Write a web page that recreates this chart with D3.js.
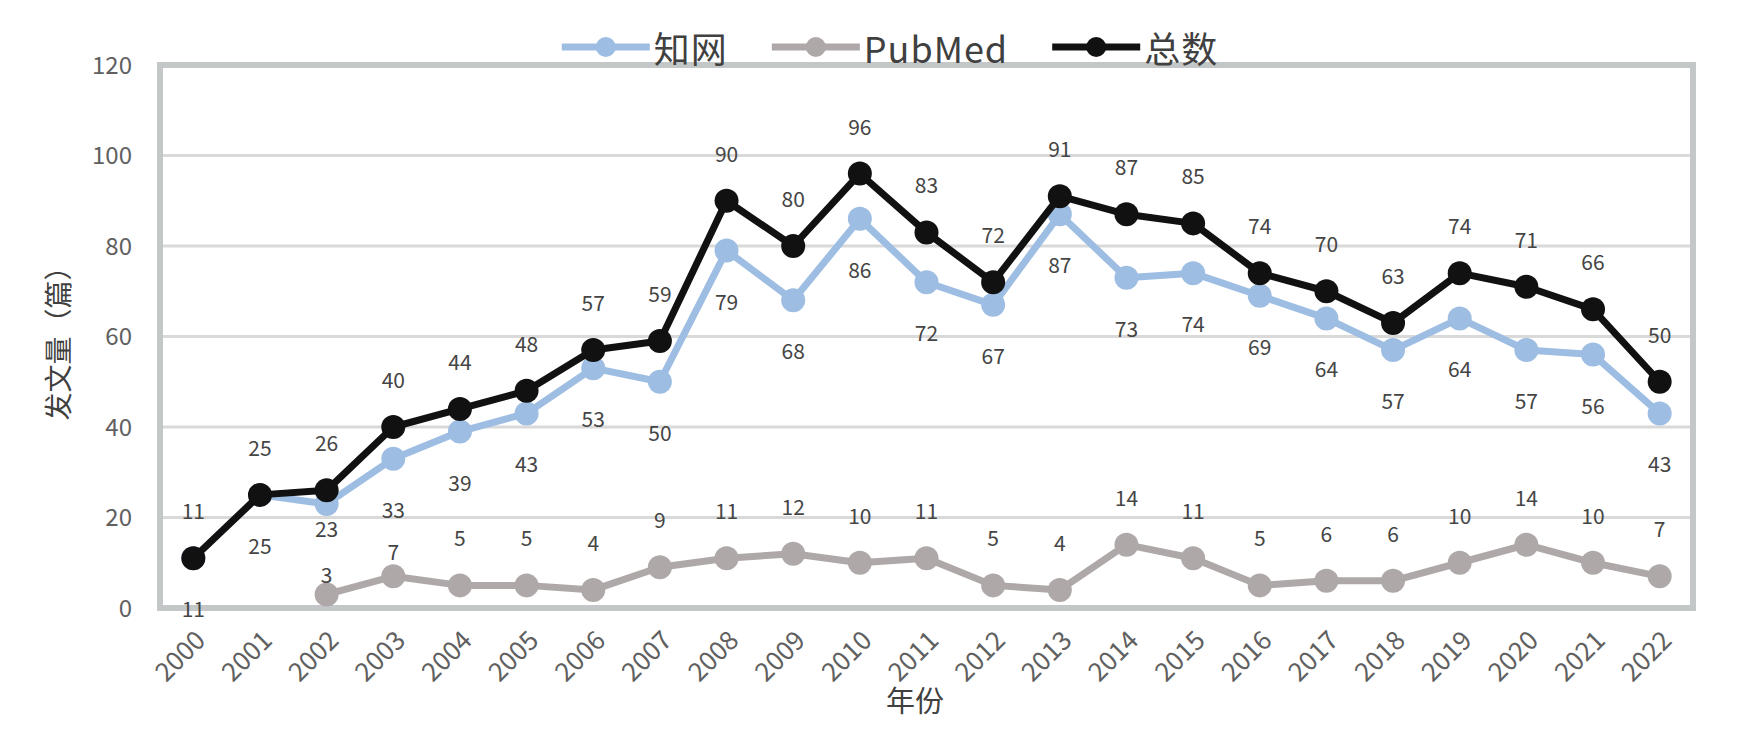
<!DOCTYPE html>
<html>
<head>
<meta charset="utf-8">
<script src="https://cdn.jsdelivr.net/npm/d3@7"></script>
<style>
  body { margin: 0; background: #fff; }
  svg text { font-family: "Noto Sans CJK SC", "Noto Sans", sans-serif; }
</style>
</head>
<body>
<svg id="chart"></svg>
<script>
// Data
const years = [2000, 2001, 2002, 2003, 2004, 2005, 2006, 2007, 2008, 2009, 2010, 2011,
  2012, 2013, 2014, 2015, 2016, 2017, 2018, 2019, 2020, 2021, 2022];
const cnkiCounts = [11, 25, 23, 33, 39, 43, 53, 50, 79, 68, 86, 72, 67, 87, 73, 74, 69, 64, 57, 64, 57, 56, 43];
const pubmedCounts = [null, null, 3, 7, 5, 5, 4, 9, 11, 12, 10, 11, 5, 4, 14, 11, 5, 6, 6, 10, 14, 10, 7];
const totalCounts = [11, 25, 26, 40, 44, 48, 57, 59, 90, 80, 96, 83, 72, 91, 87, 85, 74, 70, 63, 74, 71, 66, 50];
const seriesNames = ["知网", "PubMed", "总数"];
const yTicks = [0, 20, 40, 60, 80, 100, 120];
const xTitle = "年份";
const yTitle = "发文量（篇）";

const config = {
  width: 1759,
  height: 729,
  plot: { left: 160, right: 1693, top: 65, bottom: 608 },
  lineWidth: 7,
  markerRadius: 12,
};

// style per series: colour and where its value labels sit (px from point)
const seriesStyle = {
  "知网": { color: "#9dbde2", labelDy: 50 },
  "PubMed": { color: "#afa8a8", labelDy: -48 },
  "总数": { color: "#111111", labelDy: -48 },
};
// a few labels were moved by hand in the original
const labelNudge = { "知网-2002": 24, "PubMed-2002": -20, "PubMed-2003": -25 };

const series = [
  { name: seriesNames[1], values: pubmedCounts },
  { name: seriesNames[0], values: cnkiCounts },
  { name: seriesNames[2], values: totalCounts },
];

const svg = d3.select("#chart")
  .attr("width", config.width)
  .attr("height", config.height);

const p = config.plot;

const xScale = d3.scalePoint().domain(years).range([p.left, p.right]).padding(0.5);
const yScale = d3.scaleLinear().domain([0, 120]).range([p.bottom, p.top]);

// gridlines
svg.append("g")
  .selectAll("line")
  .data(yTicks.slice(1, -1))
  .join("line")
  .attr("x1", p.left)
  .attr("x2", p.right)
  .attr("y1", (d) => yScale(d))
  .attr("y2", (d) => yScale(d))
  .attr("stroke", "#d9d9d9")
  .attr("stroke-width", 3);

// plot frame
svg.append("rect")
  .attr("x", p.left)
  .attr("y", p.top)
  .attr("width", p.right - p.left)
  .attr("height", p.bottom - p.top)
  .attr("fill", "none")
  .attr("stroke", "#c3c7c7")
  .attr("stroke-width", 6);

// y axis
const yAxisG = svg.append("g")
  .attr("transform", `translate(${p.left},0)`)
  .call(d3.axisLeft(yScale).tickValues(yTicks).tickSize(0).tickPadding(28));
yAxisG.select(".domain").remove();
yAxisG.selectAll("text")
  .attr("font-size", 24)
  .attr("fill", "#606060")
  .attr("dy", "0.35em");

// x axis, labels turned 45 degrees
const xAxisG = svg.append("g")
  .attr("transform", `translate(0,${p.bottom})`)
  .call(d3.axisBottom(xScale).tickSize(0));
xAxisG.select(".domain").remove();
xAxisG.selectAll("text")
  .attr("font-size", 26)
  .attr("fill", "#606060")
  .attr("y", 0)
  .attr("dy", null)
  .attr("text-anchor", "end")
  .attr("dominant-baseline", "central")
  .attr("transform", "translate(5,26) rotate(-45)");

// axis titles
svg.append("text")
  .attr("x", 915)
  .attr("y", 699)
  .attr("text-anchor", "middle")
  .attr("dominant-baseline", "central")
  .attr("font-size", 29)
  .attr("fill", "#404040")
  .text(xTitle);

svg.append("text")
  .attr("transform", `translate(57,${(p.top + p.bottom) / 2}) rotate(-90)`)
  .attr("text-anchor", "middle")
  .attr("dominant-baseline", "central")
  .attr("font-size", 28)
  .attr("fill", "#404040")
  .text(yTitle);

// lines, markers and value labels
const line = d3.line()
  .defined((d) => d.v != null)
  .x((d) => xScale(d.year))
  .y((d) => yScale(d.v));

series.forEach((s) => {
  const style = seriesStyle[s.name];
  const pts = years.map((year, i) => ({ year, v: s.values[i] }));
  const g = svg.append("g").attr("class", "series");

  g.append("path")
    .datum(pts)
    .attr("d", line)
    .attr("fill", "none")
    .attr("stroke", style.color)
    .attr("stroke-width", config.lineWidth)
    .attr("stroke-linejoin", "round");

  const shown = pts.filter((d) => d.v != null);

  g.selectAll("circle")
    .data(shown)
    .join("circle")
    .attr("cx", (d) => xScale(d.year))
    .attr("cy", (d) => yScale(d.v))
    .attr("r", config.markerRadius)
    .attr("fill", style.color);

  s.labels = shown.map((d) => ({
    x: xScale(d.year),
    y: yScale(d.v) + (labelNudge[`${s.name}-${d.year}`] ?? style.labelDy),
    text: d.v,
  }));
});

// labels go on top of every line
const labelG = svg.append("g");
series.forEach((s) => {
  labelG.selectAll(null)
    .data(s.labels)
    .join("text")
    .attr("x", (d) => d.x)
    .attr("y", (d) => d.y)
    .attr("text-anchor", "middle")
    .attr("dominant-baseline", "central")
    .attr("font-size", 21)
    .attr("fill", "#454545")
    .text((d) => d.text);
});

// legend, centred above the plot
const legendOrder = seriesNames;
const legend = svg.append("g");
const legendY = 47;
const swatch = 88;
const gap = 44;
let cursor = 0;
legendOrder.forEach((name) => {
  const style = seriesStyle[name];
  const item = legend.append("g").attr("transform", `translate(${cursor},0)`);
  item.append("line")
    .attr("x1", 0)
    .attr("x2", swatch)
    .attr("y1", legendY)
    .attr("y2", legendY)
    .attr("stroke", style.color)
    .attr("stroke-width", config.lineWidth);
  item.append("circle")
    .attr("cx", swatch / 2)
    .attr("cy", legendY)
    .attr("r", 10)
    .attr("fill", style.color);
  const label = item.append("text")
    .attr("x", swatch + 4)
    .attr("y", legendY)
    .attr("dominant-baseline", "central")
    .attr("font-size", 36)
    .attr("letter-spacing", 1)
    .attr("fill", "#404040")
    .text(name);
  cursor += swatch + 4 + label.node().getComputedTextLength() + gap;
});
const legendWidth = cursor - gap;
legend.attr("transform", `translate(${890 - legendWidth / 2},0)`);
</script>
</body>
</html>
